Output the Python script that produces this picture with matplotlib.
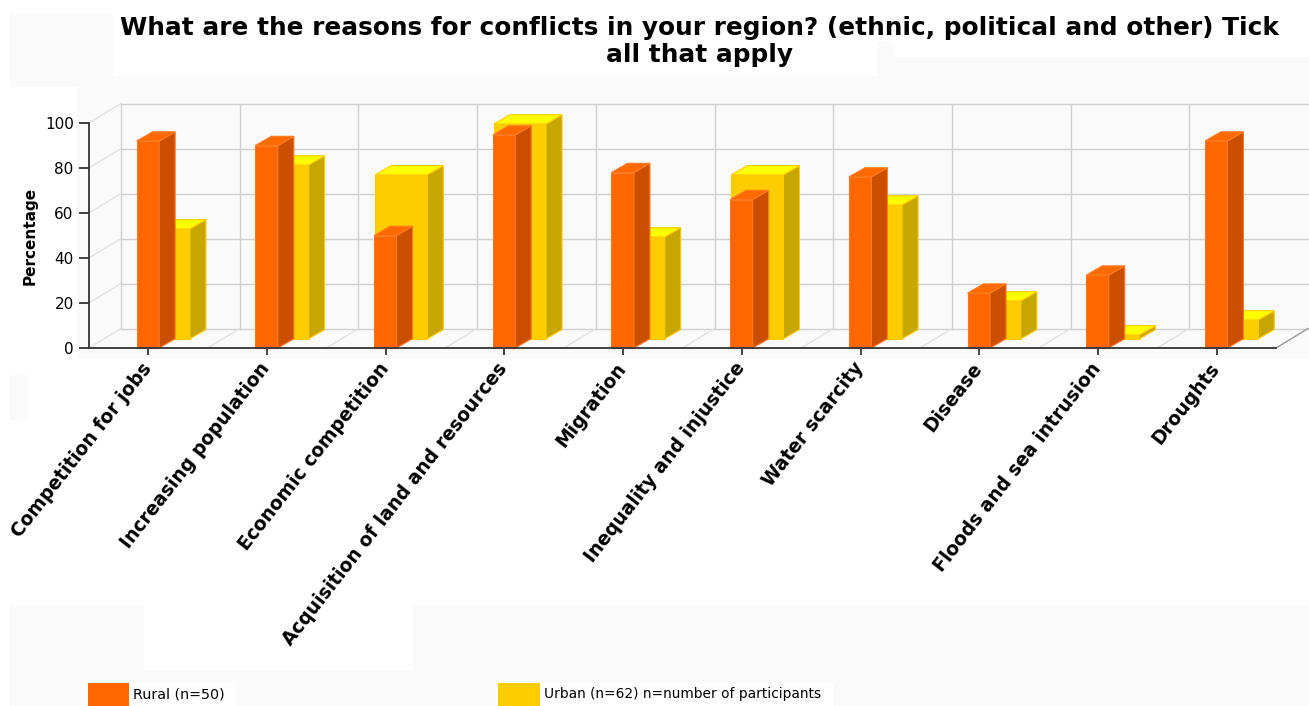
# 3D-look grouped bars, drawn as flat faces on a normal 2D axes
import numpy as np
import matplotlib
matplotlib.use("Agg")
import matplotlib.pyplot as plt
from matplotlib.patches import Rectangle

categories = ["Competition for jobs", "Increasing population", "Economic competition",
              "Acquisition of land and resources", "Migration", "Inequality and injustice",
              "Water scarcity", "Disease", "Floods and sea intrusion", "Droughts"]
rural = [92, 90, 50, 94.7, 78, 66, 76, 24.4, 32.4, 92]
urban = [48.9, 77.3, 72.9, 95.5, 45.3, 72.9, 59.5, 16.9, 1.8, 8.4]
y_ticks = [0, 20, 40, 60, 80, 100]
title = "What are the reasons for conflicts in your region? (ethnic, political and other) Tick\nall that apply"
legend_rural = "Rural (n=50)"
legend_urban = "Urban (n=62) n=number of participants"

W, H = 1309, 706
LEFT, RIGHT, BOTTOM, TOP = 89, 1276, 348, 123
PX_X = 10 / (RIGHT - LEFT)      # one pixel in x data units
PX_Y = 100 / (BOTTOM - TOP)     # one pixel in y data units

# depth of the box and of one bar
WALL_DX, WALL_DY = 32 * PX_X, 19.5 * PX_Y
BAR_DX, BAR_DY = 16 * PX_X, 9.2 * PX_Y

GRID = "#d0d0d0"
GRID_LIGHT = "#e2e2e2"
BG = "#fafafa"

fig = plt.figure(figsize=(W / 100, H / 100), dpi=100, facecolor="white")

# background blocks, in pixels
bg = fig.add_axes([0, 0, 1, 1], zorder=0)
bg.set_xlim(0, W)
bg.set_ylim(H, 0)
bg.axis("off")
blocks = [(10, 13, 103, 74, BG), (877, 42, 18, 45, BG), (895, 57, 414, 30, BG), (113, 76, 1196, 11, BG),
          (77, 87, 1232, 271, BG), (10, 375, 18, 45, BG), (10, 605, 134, 101, BG),
          (144, 670, 269, 36, BG), (413, 605, 896, 101, BG),
          (129, 683, 107, 23, "white"), (540, 683, 294, 23, "white"),
          (88, 683, 41, 23, "#ff6600"), (498, 683, 42, 23, "#ffcc00")]
for x, y, w, h, c in blocks:
    bg.add_patch(Rectangle((x, y), w, h, facecolor=c, edgecolor="none"))
bg.text(699, 41.5, title, ha="center", va="center", fontsize=17.8, fontweight="bold",
        color="black", linespacing=1.2)
bg.text(133, 694, legend_rural, ha="left", va="center", fontsize=10.3, color="black")
bg.text(544, 694, legend_urban, ha="left", va="center", fontsize=9.9, color="black")

ax = fig.add_axes([LEFT / W, (H - BOTTOM) / H, (RIGHT - LEFT) / W, (BOTTOM - TOP) / H], zorder=1)
ax.patch.set_visible(False)
ax.set_xlim(0, 10)
ax.set_ylim(0, 100)

# walls
n = len(categories)
for v in y_ticks:
    ax.plot([WALL_DX, n + WALL_DX], [v + WALL_DY, v + WALL_DY], color=GRID, lw=1.0, clip_on=False, zorder=1)
    if v > 0:
        ax.plot([0, WALL_DX], [v, v + WALL_DY], color=GRID_LIGHT, lw=1.0, clip_on=False, zorder=1)
for i in range(n + 1):
    if i < n:
        ax.plot([i + WALL_DX, i + WALL_DX], [WALL_DY, 100 + WALL_DY], color=GRID, lw=1.0, clip_on=False, zorder=1)
    c = "#999999" if i == n else GRID_LIGHT
    ax.plot([i, i + WALL_DX], [0, WALL_DY], color=c, lw=1.0, clip_on=False, zorder=1)


def draw_bars(xs, values, width, bottom, front, side, top, edge, z):
    ax.bar(xs, values, width=width, bottom=bottom, align="edge", color=front, edgecolor=edge,
           linewidth=0.8, zorder=z, clip_on=False)
    for x, v in zip(xs, values):
        y0, y1 = bottom, bottom + v
        xr = x + width
        ax.fill([xr, xr + BAR_DX, xr + BAR_DX, xr], [y0, y0 + BAR_DY, y1 + BAR_DY, y1],
                facecolor=side, edgecolor=edge, lw=0.8, zorder=z, clip_on=False)
        ax.fill([x, x + BAR_DX, xr + BAR_DX, xr], [y1, y1 + BAR_DY, y1 + BAR_DY, y1],
                facecolor=top, edgecolor=edge, lw=0.8, zorder=z, clip_on=False)


centers = np.arange(n) + 0.5
# urban row sits behind the rural row and is wider
draw_bars(centers - 10.4 * PX_X, urban, 52 * PX_X, BAR_DY, "#ffcc00", "#c8a600", "#ffff00", "#ffcc00", 2)
draw_bars(centers - 11.7 * PX_X, rural, 22.5 * PX_X, 0, "#ff6600", "#cc4e00", "#ff6a00", "#ff7a22", 3)

ax.set_xticks(centers)
ax.set_xticklabels([])
# labels end a little left of their ticks, so annotate instead of tick labels
for c, name in zip(centers, categories):
    ax.annotate(name, xy=(c, 0), xytext=(-8, -11), textcoords="offset pixels", rotation=52,
                ha="right", va="top", rotation_mode="anchor", fontsize=13.4, fontweight="bold",
                color="black")
ax.set_yticks(y_ticks)
ax.tick_params(axis="y", length=7, width=1.3, color="#333333", labelsize=11, pad=4, labelcolor="black")
ax.tick_params(axis="x", length=5, width=1.3, color="#333333", pad=3)
ax.set_ylabel("Percentage", fontsize=11, fontweight="bold", labelpad=5)
for s in ["top", "right"]:
    ax.spines[s].set_visible(False)
for s in ["left", "bottom"]:
    ax.spines[s].set_linewidth(1.3)
    ax.spines[s].set_color("#333333")
    ax.spines[s].set_zorder(5)

plt.savefig("out.png", dpi=100)
